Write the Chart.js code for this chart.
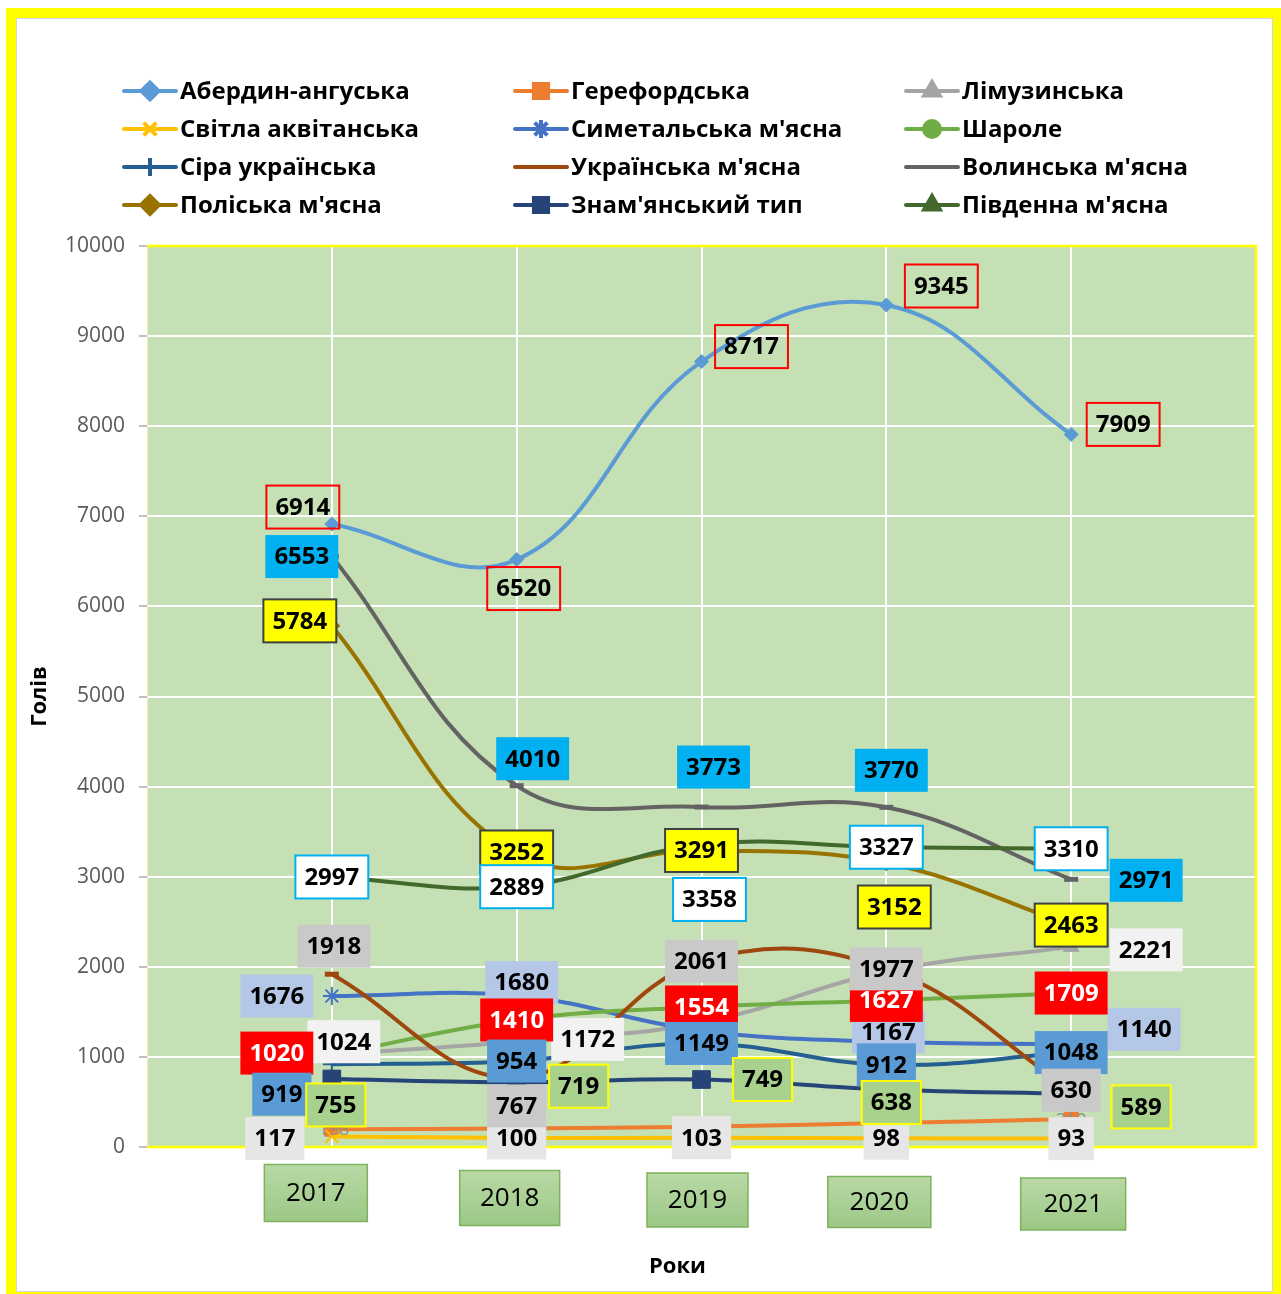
<!DOCTYPE html>
<html>
<head>
<meta charset="utf-8">
<script src="https://cdn.jsdelivr.net/npm/chart.js@4.4.0/dist/chart.umd.min.js"></script>
<style>
html,body{margin:0;padding:0;background:#fff;overflow:hidden;width:1281px;height:1294px;}
#frame{position:absolute;left:6px;top:8px;width:1277px;height:1294px;box-sizing:border-box;border:10px solid #FFFF00;}
#inner{position:absolute;left:0;top:0;right:0;bottom:0;border:1px solid #D6D6D6;}
#c{position:absolute;left:0;top:0;z-index:1;}
</style>
</head>
<body>
<div id="frame"><div id="inner"></div></div>
<canvas id="c" width="1281" height="1294"></canvas>
<script>
// ---------- data ----------
const years = ['2017', '2018', '2019', '2020', '2021'];
const seriesNames = [
  'Абердин-ангуська', 'Герефордська', 'Лімузинська',
  'Світла аквітанська', "Симетальська м'ясна", 'Шароле',
  'Сіра українська', "Українська м'ясна", "Волинська м'ясна",
  "Поліська м'ясна", "Знам'янський тип", "Південна м'ясна"
];
const aberdeenAngus   = [6914, 6520, 8717, 9345, 7909];
const hereford        = [198, 205, 225, 265, 310];
const limousin        = [1024, 1172, 1380, 1950, 2221];
const blondeAquitaine = [117, 100, 103, 98, 93];
const simmentalMeat   = [1676, 1680, 1290, 1167, 1140];
const charolais       = [1020, 1410, 1554, 1627, 1709];
const greyUkrainian   = [919, 954, 1149, 912, 1048];
const ukrainianMeat   = [1918, 767, 2061, 1977, 630];
const volynMeat       = [6553, 4010, 3773, 3770, 2971];
const polissiaMeat    = [5784, 3252, 3291, 3152, 2463];
const znamyankaType   = [755, 719, 749, 638, 589];
const southernMeat    = [2997, 2889, 3358, 3327, 3310];
const yMin = 0, yMax = 10000, yStep = 1000;

const seriesValues = [aberdeenAngus, hereford, limousin, blondeAquitaine, simmentalMeat, charolais,
  greyUkrainian, ukrainianMeat, volynMeat, polissiaMeat, znamyankaType, southernMeat];

// ---------- styles ----------
const seriesStyles = [
  {color:'#5B9BD5', point:'rectRot', r:7, lr:8.5},
  {color:'#ED7D31', point:'rect', r:10, lr:10},
  {color:'#A5A5A5', point:'triangle', r:9, lr:9},
  {color:'#FFC000', point:'crossRot', r:9, lr:9},
  {color:'#4472C4', point:'star', r:9, lr:9},
  {color:'#70AD47', point:'circle', r:7, lr:8},
  {color:'#255E91', point:'cross', r:9, lr:9},
  {color:'#9E480E', point:'line', r:7, lr:0},
  {color:'#636363', point:'line', r:7, lr:0},
  {color:'#997300', point:'rectRot', r:8, lr:9},
  {color:'#264478', point:'rect', r:12.5, lr:10},
  {color:'#43682B', point:'triangle', r:8, lr:9}
];
// label box styles and offsets (px) from the data point
const labelStyles = [
  {fill:null, stroke:'#FF0000', color:'#000', off:[[-29,-17],[7,29],[50,-15],[55,-19],[52,-10]]},
  {plain:true, color:'#8C8C8C', off:[[2,1],[0,0],[0,0],[0,0],[0,2]]},
  {fill:'#F2F2F2', color:'#000', off:[[12,-13],[71,-2],[0,0],[0,0],[75,3]]},
  {fill:'#E7E6E6', color:'#000', off:[[-57,2],[0,0],[0,0],[0,0],[0,0]]},
  {fill:'#B4C7E7', color:'#000', off:[[-55,0],[5,-13],[0,0],[2,-10],[73,-15]]},
  {fill:'#FF0000', color:'#FFFFFF', off:[[-55,-2],[0,0],[0,0],[0,0],[0,0]]},
  {fill:'#5B9BD5', color:'#000', off:[[-50,30],[0,0],[0,0],[0,0],[0,0]]},
  {fill:'#C9C9C9', color:'#000', off:[[2,-28],[0,28],[0,0],[0,0],[0,0]]},
  {fill:'#00B0F0', color:'#000', off:[[-30,0],[16,-27],[12,-40],[5,-37],[75,1]]},
  {fill:'#FFFF00', stroke:'#404040', color:'#000', off:[[-32,-5],[0,-2],[0,0],[8,44],[0,0]]},
  {fill:'#A9D18E', stroke:'#FFFF00', color:'#000', off:[[4,26],[62,4],[61,0],[5,13],[70,13]]},
  {fill:'#FFFFFF', stroke:'#00B0F0', color:'#000', off:[[0,0],[0,0],[8,55],[0,0],[0,0]]}
];
const yearBoxes = [
  {dx:-16, dy:46, w:103, h:57}, {dx:-7, dy:51, w:100, h:55}, {dx:-4, dy:53, w:101, h:54},
  {dx:-7, dy:55, w:103, h:51}, {dx:2, dy:57, w:105, h:52}
];
const FONT = '"Open Sans", "DejaVu Sans", sans-serif';

const datasets = seriesValues.map((vals, i) => {
  const st = seriesStyles[i];
  return {
    label: seriesNames[i],
    data: vals.map((v, k) => ({x: k + 1, y: v})),
    borderColor: st.color,
    backgroundColor: st.color,
    pointBackgroundColor: st.color,
    pointBorderColor: st.color,
    pointStyle: st.point,
    pointRadius: st.r,
    pointBorderWidth: st.point === 'line' ? 5 : (st.point === 'crossRot' || st.point === 'star' || st.point === 'cross' ? 2 : 1),
    borderWidth: 4,
    tension: 0.4,
    fill: false,
    order: seriesValues.length - i
  };
});

const decorPlugin = {
  id: 'decor',
  beforeDraw(chart) {
    const {ctx, chartArea: a} = chart;
    ctx.save();
    ctx.fillStyle = '#C5E0B4';
    ctx.fillRect(a.left, a.top, a.right - a.left, a.bottom - a.top);
    ctx.restore();
  },
  afterDatasetsDraw(chart) {
    const {ctx, chartArea: a} = chart;
    const xs = chart.scales.x;
    ctx.save();
    // plot border
    ctx.strokeStyle = '#FFFF00';
    ctx.lineWidth = 2.5;
    ctx.beginPath();
    ctx.moveTo(a.left, a.top); ctx.lineTo(a.right, a.top); ctx.lineTo(a.right, a.bottom); ctx.lineTo(a.left, a.bottom);
    ctx.stroke();
    ctx.strokeStyle = '#EDEDB0';
    ctx.lineWidth = 1;
    ctx.beginPath(); ctx.moveTo(a.left + 0.5, a.top); ctx.lineTo(a.left + 0.5, a.bottom); ctx.stroke();

    // data labels in series order (later series on top)
    ctx.textAlign = 'center';
    ctx.textBaseline = 'middle';
    seriesValues.forEach((vals, i) => {
      const meta = chart.getDatasetMeta(i);
      const ls = labelStyles[i];
      vals.forEach((v, k) => {
        const pt = meta.data[k];
        const cx = pt.x + ls.off[k][0];
        const cy = pt.y + ls.off[k][1];
        const txt = String(v);
        if (ls.plain) {
          ctx.font = '18px ' + FONT;
          ctx.fillStyle = ls.color;
          ctx.fillText(txt, cx, cy);
          return;
        }
        ctx.font = 'bold 24px ' + FONT;
        const w = ctx.measureText(txt).width + 18, h = 43;
        const x0 = cx - w / 2, y0 = cy - h / 2;
        if (ls.fill) { ctx.fillStyle = ls.fill; ctx.fillRect(x0, y0, w, h); }
        if (ls.stroke) { ctx.strokeStyle = ls.stroke; ctx.lineWidth = 2; ctx.strokeRect(x0, y0, w, h); }
        ctx.fillStyle = ls.color;
        ctx.fillText(txt, cx, cy + 1);
      });
    });

    // year boxes under the axis
    years.forEach((yr, k) => {
      const b = yearBoxes[k];
      const cx = xs.getPixelForValue(k + 1) + b.dx;
      const cy = a.bottom + b.dy;
      const x0 = cx - b.w / 2, y0 = cy - b.h / 2;
      const g = ctx.createLinearGradient(0, y0, 0, y0 + b.h);
      g.addColorStop(0, '#B9D9A6');
      g.addColorStop(1, '#9CC886');
      ctx.fillStyle = g;
      ctx.fillRect(x0, y0, b.w, b.h);
      ctx.strokeStyle = '#7CB35C';
      ctx.lineWidth = 1.5;
      ctx.strokeRect(x0, y0, b.w, b.h);
      ctx.fillStyle = '#000';
      ctx.font = '26px ' + FONT;
      ctx.fillText(yr, cx, cy + 1);
    });

    // axis titles
    ctx.fillStyle = '#000';
    ctx.font = 'bold 22px ' + FONT;
    ctx.fillText('Роки', (a.left + a.right) / 2 - 24, 1267);
    ctx.save();
    ctx.translate(40, (a.top + a.bottom) / 2);
    ctx.rotate(-Math.PI / 2);
    ctx.fillText('Голів', 0, 0);
    ctx.restore();

    // legend (3 columns)
    const lgLeft = 122, lgCol = 391, lgTop = 91, lgRow = 38;
    ctx.textAlign = 'left';
    seriesNames.forEach((name, i) => {
      const st = seriesStyles[i];
      const col = i % 3, row = Math.floor(i / 3);
      const x = lgLeft + col * lgCol, y = lgTop + row * lgRow;
      ctx.strokeStyle = st.color;
      ctx.lineWidth = 4;
      ctx.lineCap = 'round';
      ctx.beginPath(); ctx.moveTo(x + 2, y); ctx.lineTo(x + 54, y); ctx.stroke();
      ctx.lineCap = 'butt';
      if (st.lr > 0) {
        ctx.fillStyle = st.color; ctx.strokeStyle = st.color;
        ctx.beginPath();
        Chart.helpers.drawPoint(ctx, {
          pointStyle: st.point, radius: st.lr, rotation: 0,
          borderWidth: (st.point === 'crossRot' || st.point === 'star' || st.point === 'cross') ? 1.5 : 1
        }, x + 28, y);
      }
      ctx.fillStyle = '#000';
      ctx.font = 'bold 24px ' + FONT;
      ctx.fillText(name, x + 58, y + 1);
    });
    ctx.restore();
  }
};

new Chart(document.getElementById('c'), {
  type: 'line',
  data: {datasets},
  options: {
    responsive: false,
    animation: false,
    events: [],
    layout: {padding: {left: 0, top: 246, right: 25, bottom: 147}},
    plugins: {legend: {display: false}, tooltip: {enabled: false}},
    scales: {
      x: {
        type: 'linear', min: 0, max: years.length + 1,
        ticks: {display: false, stepSize: 1},
        grid: {
          color: c => (c.tick && c.tick.value >= 1 && c.tick.value <= years.length) ? '#FFFFFF' : 'rgba(0,0,0,0)',
          lineWidth: 2, drawTicks: false
        },
        border: {display: false},
        afterFit: s => { s.height = 0; }
      },
      y: {
        min: yMin, max: yMax,
        ticks: {stepSize: yStep, color: '#595959', font: {family: FONT, size: 21}, padding: 14,
          callback: v => String(v)},
        grid: {color: '#FFFFFF', lineWidth: 2, tickColor: '#BFBFBF', tickLength: 8, tickWidth: 2},
        border: {display: false},
        afterFit: s => { s.width = 147; }
      }
    }
  },
  plugins: [decorPlugin]
});
</script>
</body>
</html>
